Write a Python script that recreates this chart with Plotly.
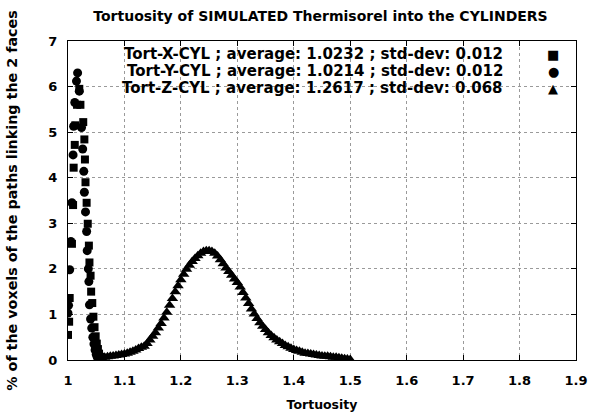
import plotly.graph_objects as go

# ---- data ----
x_tort = [1.000, 1.002, 1.003, 1.007, 1.009, 1.010, 1.012, 1.013, 1.016, 1.020,
          1.022, 1.027, 1.029, 1.030, 1.031, 1.033, 1.035, 1.037, 1.038, 1.040,
          1.041, 1.043, 1.045, 1.047, 1.049, 1.051, 1.053, 1.055, 1.057, 1.059, 1.061]
x_vals = [0.55, 0.84, 1.36, 2.55, 3.40, 4.22, 4.72, 5.15, 5.60, 5.95,
          5.60, 5.22, 4.84, 4.40, 3.90, 3.45, 2.99, 2.51, 2.14, 1.85,
          1.50, 1.25, 0.95, 0.72, 0.52, 0.36, 0.24, 0.14, 0.07, 0.03, 0.01]

y_tort = [1.000, 1.001, 1.003, 1.005, 1.007, 1.009, 1.010, 1.012, 1.015, 1.017,
          1.020, 1.024, 1.026, 1.028, 1.029, 1.031, 1.033, 1.034, 1.036, 1.037,
          1.038, 1.040, 1.042, 1.044, 1.046, 1.048, 1.050, 1.052, 1.054, 1.056]
y_vals = [1.03, 1.20, 1.98, 2.60, 3.45, 4.50, 5.13, 5.65, 6.12, 6.30,
          5.90, 5.10, 4.63, 4.14, 3.68, 3.25, 2.82, 2.40, 2.00, 1.72,
          1.21, 0.90, 0.70, 0.50, 0.35, 0.22, 0.12, 0.06, 0.03, 0.01]

z_tort = [1.055, 1.060, 1.065, 1.070, 1.075, 1.080, 1.085, 1.090, 1.095, 1.100,
          1.105, 1.110, 1.115, 1.120, 1.125, 1.130, 1.135, 1.140, 1.145, 1.150,
          1.155, 1.160, 1.165, 1.170, 1.175, 1.180, 1.185, 1.190, 1.195, 1.200,
          1.205, 1.210, 1.215, 1.220, 1.225, 1.230, 1.235, 1.240, 1.245, 1.250,
          1.255, 1.260, 1.265, 1.270, 1.275, 1.280, 1.285, 1.290, 1.295, 1.300,
          1.305, 1.310, 1.315, 1.320, 1.325, 1.330, 1.335, 1.340, 1.345, 1.350,
          1.355, 1.360, 1.365, 1.370, 1.375, 1.380, 1.385, 1.390, 1.395, 1.400,
          1.405, 1.410, 1.415, 1.420, 1.425, 1.430, 1.435, 1.440, 1.445, 1.450,
          1.455, 1.460, 1.465, 1.470, 1.475, 1.480, 1.485, 1.490, 1.495, 1.500]
z_vals = [0.02, 0.04, 0.06, 0.07, 0.08, 0.09, 0.10, 0.11, 0.12, 0.13,
          0.15, 0.17, 0.19, 0.22, 0.25, 0.28, 0.30, 0.36, 0.44, 0.52,
          0.60, 0.70, 0.80, 0.92, 1.05, 1.20, 1.35, 1.50, 1.63, 1.76,
          1.88, 1.99, 2.08, 2.16, 2.23, 2.29, 2.34, 2.38, 2.40, 2.40,
          2.38, 2.34, 2.28, 2.20, 2.11, 2.02, 1.94, 1.86, 1.78, 1.70,
          1.60, 1.48, 1.36, 1.24, 1.12, 1.01, 0.91, 0.82, 0.74, 0.67,
          0.60, 0.54, 0.49, 0.44, 0.40, 0.36, 0.32, 0.29, 0.26, 0.23,
          0.21, 0.19, 0.17, 0.15, 0.14, 0.13, 0.12, 0.11, 0.10, 0.09,
          0.08, 0.08, 0.07, 0.06, 0.06, 0.05, 0.04, 0.03, 0.02, 0.01]

legend_labels = [
    "Tort-X-CYL ; average: 1.0232 ; std-dev: 0.012",
    "Tort-Y-CYL ; average: 1.0214 ; std-dev: 0.012",
    "Tort-Z-CYL ; average: 1.2617 ; std-dev: 0.068",
]
legend_glyphs = ["■", "●", "▲"]

title_text = "Tortuosity of SIMULATED Thermisorel into the CYLINDERS"
xlabel = "Tortuosity"
ylabel = "% of the voxels of the paths linking the 2 faces"

FONT = "DejaVu Sans, Liberation Sans, Arial, sans-serif"


def bold(size):
    return dict(family=FONT, size=size, color="black", weight="bold")


W, H = 590, 414
L, R, T, B = 68, 14, 41, 54
PW, PH = W - L - R, H - T - B


def px_x(p):
    return (p - L) / PW


def px_y(p):
    return (H - B - p) / PH


fig = go.Figure()
fig.add_trace(go.Scatter(x=x_tort, y=x_vals, mode="markers", name=legend_labels[0],
                         marker=dict(symbol="square", size=8, color="black")))
fig.add_trace(go.Scatter(x=y_tort, y=y_vals, mode="markers", name=legend_labels[1],
                         marker=dict(symbol="circle", size=9, color="black")))
fig.add_trace(go.Scatter(x=z_tort, y=z_vals, mode="markers", name=legend_labels[2],
                         marker=dict(symbol="triangle-up", size=10, color="black")))

axis_common = dict(
    showline=True, linecolor="black", linewidth=1, mirror="allticks",
    ticks="inside", ticklen=5, tickcolor="black",
    showgrid=True, gridcolor="#9a9a9a", griddash="dot", gridwidth=1,
    zeroline=False, tickfont=bold(13), automargin=False,
)

fig.update_layout(
    width=W, height=H,
    margin=dict(l=L, r=R, t=T, b=B),
    paper_bgcolor="white", plot_bgcolor="white",
    showlegend=False,
    title=dict(text=title_text, font=bold(14), x=320.5 / W, xanchor="center",
               y=1 - 16 / H, yanchor="middle", yref="container"),
    xaxis=dict(range=[1, 1.9], tick0=1, dtick=0.1, ticklabelstandoff=8,
               title=dict(text=xlabel, font=bold(12.5), standoff=13), **axis_common),
    yaxis=dict(range=[0, 7], tick0=0, dtick=1, ticklabelstandoff=7,
               title=dict(text=ylabel, font=bold(14.3), standoff=27), **axis_common),
)

# opaque key background (above grid, below data)
fig.add_shape(type="rect", xref="paper", yref="paper", x0=px_x(100), x1=px_x(568),
              y0=px_y(99), y1=px_y(44), fillcolor="white", line=dict(width=0), layer="between")

key_rows = [54, 71, 88]
for label, glyph, row in zip(legend_labels, legend_glyphs, key_rows):
    fig.add_annotation(text=label, xref="paper", yref="paper",
                       x=px_x(505), y=px_y(row), xanchor="right", yanchor="middle",
                       showarrow=False, font=bold(15))
    fig.add_annotation(text=glyph, xref="paper", yref="paper",
                       x=px_x(553), y=px_y(row), xanchor="center", yanchor="middle",
                       showarrow=False, font=dict(family="DejaVu Sans", size=13, color="black"))

fig.write_html("out.html", config={"displayModeBar": False},
               post_script="document.body.style.margin='0';document.body.style.padding='0';")
